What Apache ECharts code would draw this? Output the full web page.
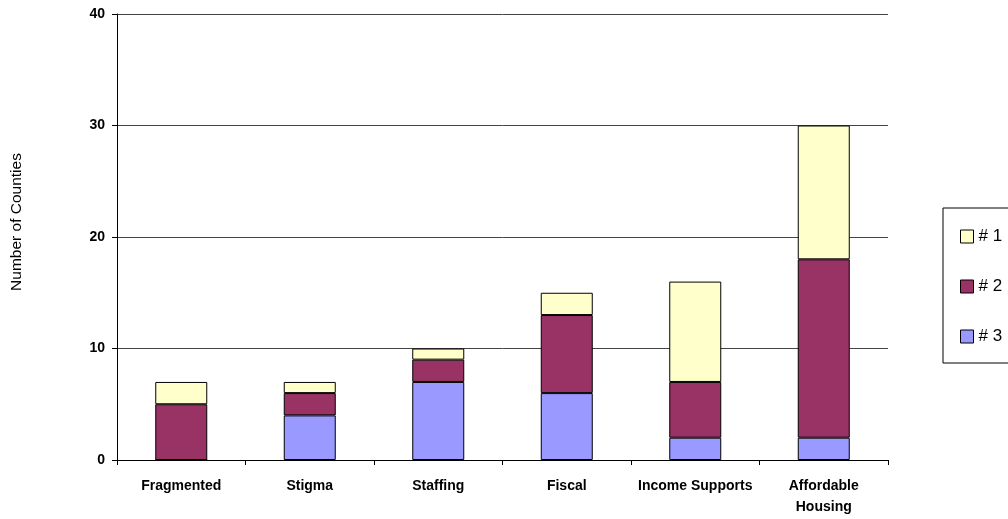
<!DOCTYPE html>
<html><head><meta charset="utf-8">
<script src="https://cdn.jsdelivr.net/npm/echarts@6/dist/echarts.min.js"></script>
<style>html,body{margin:0;padding:0;background:#fff}#c{width:1008px;height:519px}</style>
</head><body><div id="c"></div>
<script>
const categories = ['Fragmented', 'Stigma', 'Staffing', 'Fiscal', 'Income Supports', 'Affordable\nHousing'];
const rank1 = [2, 1, 1, 2, 9, 12];
const rank2 = [5, 2, 2, 7, 5, 16];
const rank3 = [0, 4, 7, 6, 2, 2];
const yTicks = [0, 10, 20, 30, 40];

const chart = echarts.init(document.getElementById('c'));
const font = 'Liberation Sans, Arial, sans-serif';
function bar(name, data, color) {
  return { name, type: 'bar', stack: 'a', data, barWidth: 52,
    itemStyle: { color, borderColor: '#000', borderWidth: 1 } };
}
chart.setOption({
  animation: false,
  grid: { left: 117, right: 120, top: 14, bottom: 59 },
  legend: {
    orient: 'vertical', left: 943, top: 208,
    data: ['# 1', '# 2', '# 3'],
    icon: 'rect',
    itemWidth: 13, itemHeight: 13, itemGap: 33,
    padding: [20, 40, 18, 17],
    borderColor: '#000', borderWidth: 1,
    textStyle: { fontFamily: font, fontSize: 17, color: '#000' },
    itemStyle: { borderColor: '#000', borderWidth: 1 }
  },
  xAxis: {
    type: 'category', data: categories,
    axisLine: { lineStyle: { color: '#000' } },
    axisTick: { show: true, interval: 0, length: 5, lineStyle: { color: '#000' } },
    axisLabel: { interval: 0, hideOverlap: false, fontFamily: font, fontWeight: 'bold', fontSize: 14, color: '#000', margin: 16, lineHeight: 21 }
  },
  yAxis: {
    type: 'value', min: yTicks[0], max: yTicks[yTicks.length - 1], interval: 10,
    axisLine: { show: true, lineStyle: { color: '#000' } },
    axisTick: { show: true, length: 5, lineStyle: { color: '#000' } },
    axisLabel: { fontFamily: font, fontWeight: 'bold', fontSize: 14, color: '#000', margin: 12 },
    splitLine: { lineStyle: { color: '#444', width: 1 } }
  },
  graphic: [{
    type: 'text', x: 17, y: 222, rotation: Math.PI / 2,
    style: { text: 'Number of Counties', fontFamily: font, fontSize: 15.5, fill: '#000',
      textAlign: 'center', textVerticalAlign: 'middle' }
  }],
  series: [
    bar('# 3', rank3, '#9999FF'),
    bar('# 2', rank2, '#993366'),
    bar('# 1', rank1, '#FFFFCC')
  ]
});
</script></body></html>
